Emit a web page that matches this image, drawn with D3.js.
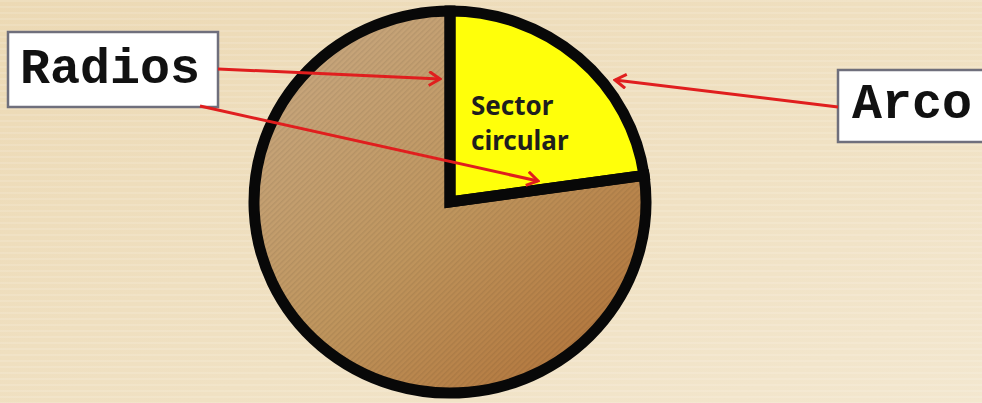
<!DOCTYPE html>
<html><head><meta charset="utf-8">
<script src="https://cdn.jsdelivr.net/npm/d3@7"></script>
<style>html,body{margin:0;padding:0;background:#efdfbf;overflow:hidden}</style>
</head><body>
<svg id="c" width="982" height="403"></svg>
<script>
// Data
const sliceNames = ["Sector circular", "Resto"];
const sliceDegrees = [82, 278];
const sectorLabelLines = ["Sector", "circular"];
const calloutLabels = ["Radios", "Arco"];

const W = 982, H = 403;
const svg = d3.select("#c");
const defs = svg.append("defs");

// background
const bg = defs.append("linearGradient").attr("id","bg").attr("x1","0").attr("y1","0").attr("x2","1").attr("y2","1");
bg.append("stop").attr("offset","0").attr("stop-color","#ecd9b4");
bg.append("stop").attr("offset","0.6").attr("stop-color","#f0e1c3");
bg.append("stop").attr("offset","1").attr("stop-color","#f3e7cf");
const stripes = defs.append("pattern").attr("id","hs").attr("width",4).attr("height",6).attr("patternUnits","userSpaceOnUse");
stripes.append("rect").attr("width",4).attr("height",2).attr("fill","#ffffff").attr("opacity",0.12);
svg.append("rect").attr("width",W).attr("height",H).attr("fill","url(#bg)");
svg.append("rect").attr("width",W).attr("height",H).attr("fill","url(#hs)");

// brown fill
const br = defs.append("linearGradient").attr("id","brown").attr("gradientUnits","userSpaceOnUse")
  .attr("x1",-150).attr("y1",-150).attr("x2",150).attr("y2",180);
br.append("stop").attr("offset","0").attr("stop-color","#c7a67d");
br.append("stop").attr("offset","0.5").attr("stop-color","#bf955d");
br.append("stop").attr("offset","1").attr("stop-color","#b2743a");
const diag = defs.append("pattern").attr("id","diag").attr("width",4).attr("height",4)
  .attr("patternUnits","userSpaceOnUse").attr("patternTransform","rotate(45)");
diag.append("rect").attr("width",1.5).attr("height",4).attr("fill","#000").attr("opacity",0.07);

// arrow marker
defs.append("marker").attr("id","arr").attr("viewBox","-12 -8 14 16").attr("refX",0).attr("refY",0)
  .attr("markerWidth",14).attr("markerHeight",16).attr("markerUnits","userSpaceOnUse").attr("orient","auto")
  .append("path").attr("d","M-11,-7 L0,0 L-11,7").attr("fill","none").attr("stroke","#e01e1e").attr("stroke-width",3)
  .attr("stroke-linejoin","miter");

// pie
const cx = 450, cy = 202, R = 196;
const deg = d3.scaleLinear().domain([0, 360]).range([0, 2*Math.PI]);
const pie = d3.pie().sort(null).value(d => d).startAngle(0).endAngle(deg(d3.sum(sliceDegrees)));
const arcs = pie(sliceDegrees);
const arc = d3.arc().innerRadius(0).outerRadius(R);
const fills = ["#ffff0a", "url(#brown)"];
const g = svg.append("g").attr("transform", `translate(${cx},${cy}) scale(1,0.975)`);
g.selectAll("path.s").data(arcs.slice().reverse()).join("path").attr("class","s")
  .attr("d", arc).attr("fill", d => fills[d.index]);
g.append("path").datum(arcs[1]).attr("d", arc).attr("fill","url(#diag)");
g.selectAll("path.o").data(arcs).join("path").attr("class","o")
  .attr("d", arc).attr("fill","none").attr("stroke","#080808").attr("stroke-width",11)
  .attr("stroke-linejoin","miter").attr("vector-effect","non-scaling-stroke");

// sector label
const lbl = svg.append("text").attr("font-family","'Century Gothic','Noto Sans',sans-serif")
  .attr("font-weight","bold").attr("font-size",26).attr("fill","#1e1e1e");
sectorLabelLines.forEach((t,i) => lbl.append("tspan").attr("x", 471).attr("y", 115 + i*35).text(t));

// callout boxes
const boxes = [
  {x:8, y:32, w:210, h:75, tx:20, ty:83},
  {x:838, y:70, w:160, h:72, tx:852, ty:118}
];
boxes.forEach((b,i) => {
  svg.append("rect").attr("x",b.x).attr("y",b.y).attr("width",b.w).attr("height",b.h)
    .attr("fill","#ffffff").attr("stroke","#6f6f7c").attr("stroke-width",2.5);
  svg.append("text").attr("x",b.tx).attr("y",b.ty)
    .attr("font-family","'Courier New','Liberation Mono',monospace").attr("font-weight","bold")
    .attr("font-size",50).attr("fill","#111").text(calloutLabels[i]);
});

// arrows from label boxes to the two radii and the arc
const arrows = [
  {from:[218,69], to:[440,79]},
  {from:[200,106], to:[538,181]},
  {from:[838,107], to:[615,80]}
];
svg.selectAll("line.a").data(arrows).join("line").attr("class","a")
  .attr("x1",d=>d.from[0]).attr("y1",d=>d.from[1]).attr("x2",d=>d.to[0]).attr("y2",d=>d.to[1])
  .attr("stroke","#e01e1e").attr("stroke-width",3).attr("marker-end","url(#arr)");
</script>
</body></html>
